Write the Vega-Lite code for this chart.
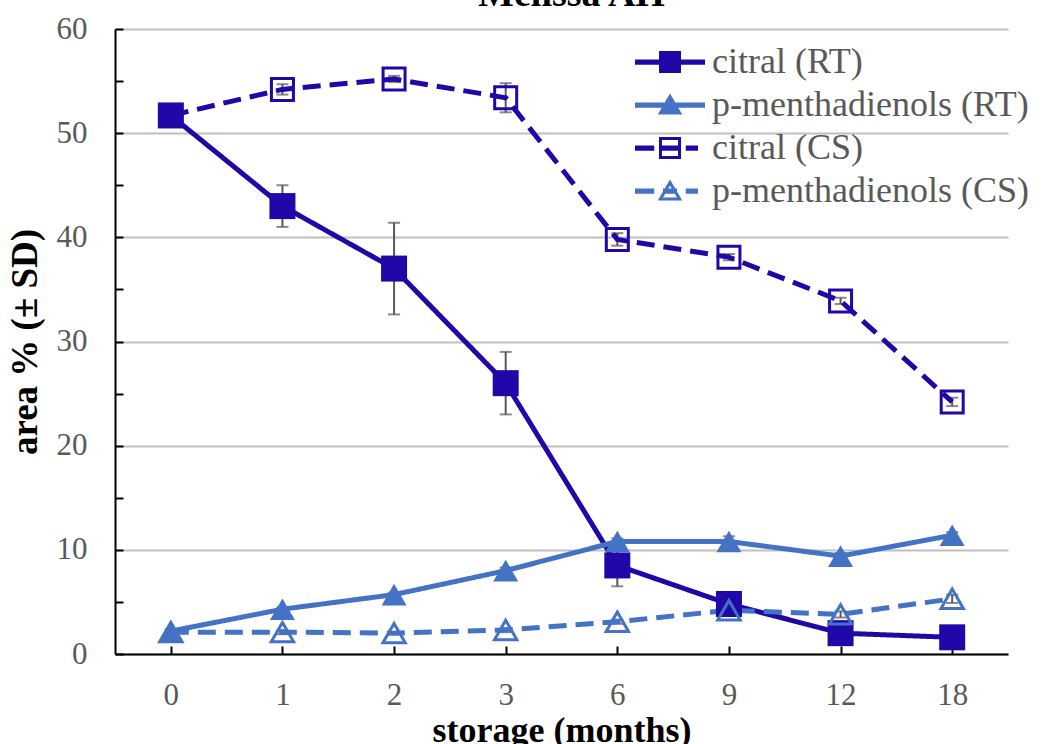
{
  "$schema": "https://vega.github.io/schema/vega-lite/v6.json",
  "autosize": {"type": "none"},
  "width": 893,
  "height": 625,
  "padding": {"left": 115, "top": 29, "right": 38, "bottom": 90},
  "background": "white",
  "title": {"text": "Melissa AH", "font": "Liberation Serif", "fontSize": 38, "fontWeight": "bold", "color": "black", "anchor": "middle", "baseline": "alphabetic", "offset": 0, "dy": 31, "dx": 10},
  "config": {"view": {"stroke": null}},
  "data": {"values": [
    {"m": 0, "s": "citral (RT)", "v": 51.7, "sd": 0.3},
    {"m": 1, "s": "citral (RT)", "v": 43.0, "sd": 2.0},
    {"m": 2, "s": "citral (RT)", "v": 37.0, "sd": 4.4},
    {"m": 3, "s": "citral (RT)", "v": 26.0, "sd": 3.0},
    {"m": 6, "s": "citral (RT)", "v": 8.5, "sd": 2.0},
    {"m": 9, "s": "citral (RT)", "v": 4.8, "sd": 0.5},
    {"m": 12, "s": "citral (RT)", "v": 2.0, "sd": 0.3},
    {"m": 18, "s": "citral (RT)", "v": 1.6, "sd": 0.2},
    {"m": 0, "s": "p-menthadienols (RT)", "v": 2.2, "sd": 0.2},
    {"m": 1, "s": "p-menthadienols (RT)", "v": 4.3, "sd": 0.2},
    {"m": 2, "s": "p-menthadienols (RT)", "v": 5.7, "sd": 0.2},
    {"m": 3, "s": "p-menthadienols (RT)", "v": 8.0, "sd": 0.3},
    {"m": 6, "s": "p-menthadienols (RT)", "v": 10.8, "sd": 0.3},
    {"m": 9, "s": "p-menthadienols (RT)", "v": 10.8, "sd": 0.5},
    {"m": 12, "s": "p-menthadienols (RT)", "v": 9.4, "sd": 0.3},
    {"m": 18, "s": "p-menthadienols (RT)", "v": 11.4, "sd": 0.3},
    {"m": 0, "s": "citral (CS)", "v": 51.7, "sd": 0.3},
    {"m": 1, "s": "citral (CS)", "v": 54.2, "sd": 0.5},
    {"m": 2, "s": "citral (CS)", "v": 55.2, "sd": 0.3},
    {"m": 3, "s": "citral (CS)", "v": 53.4, "sd": 1.4},
    {"m": 6, "s": "citral (CS)", "v": 39.8, "sd": 0.6},
    {"m": 9, "s": "citral (CS)", "v": 38.1, "sd": 0.3},
    {"m": 12, "s": "citral (CS)", "v": 33.9, "sd": 0.3},
    {"m": 18, "s": "citral (CS)", "v": 24.2, "sd": 0.4},
    {"m": 0, "s": "p-menthadienols (CS)", "v": 2.1, "sd": 0.1},
    {"m": 1, "s": "p-menthadienols (CS)", "v": 2.1, "sd": 0.2},
    {"m": 2, "s": "p-menthadienols (CS)", "v": 2.0, "sd": 0.1},
    {"m": 3, "s": "p-menthadienols (CS)", "v": 2.3, "sd": 0.2},
    {"m": 6, "s": "p-menthadienols (CS)", "v": 3.1, "sd": 0.2},
    {"m": 9, "s": "p-menthadienols (CS)", "v": 4.2, "sd": 0.3},
    {"m": 12, "s": "p-menthadienols (CS)", "v": 3.8, "sd": 0.3},
    {"m": 18, "s": "p-menthadienols (CS)", "v": 5.3, "sd": 0.4}
  ]},
  "encoding": {
    "x": {"field": "m", "type": "ordinal", "scale": {"type": "point", "padding": 0.5},
      "axis": {"title": "storage (months)", "labelAngle": 0, "grid": false,
        "domainColor": "black", "domainWidth": 2, "tickColor": "black", "tickWidth": 2, "tickSize": -8,
        "labelFont": "Liberation Serif", "labelFontSize": 31, "labelColor": "#595959", "labelPadding": 34, "labelBaseline": "top",
        "titleFont": "Liberation Serif", "titleFontSize": 36, "titleFontWeight": "bold", "titleColor": "black", "titlePadding": 3}},
    "y": {"field": "v", "type": "quantitative", "scale": {"domain": [0, 60], "nice": false},
      "axis": {"title": "area % (± SD)", "values": [0, 5, 10, 15, 20, 25, 30, 35, 40, 45, 50, 55, 60],
        "labelExpr": "datum.value % 10 === 0 ? datum.label : ''",
        "grid": true, "gridWidth": 2,
        "gridColor": {"condition": {"test": "datum.value % 10 === 0", "value": "#BFBFBF"}, "value": "transparent"},
        "domainColor": "black", "domainWidth": 2, "tickColor": "black", "tickWidth": 2, "tickSize": -8,
        "labelFont": "Liberation Serif", "labelFontSize": 31, "labelColor": "#595959", "labelPadding": 36,
        "titleFont": "Liberation Serif", "titleFontSize": 37, "titleFontWeight": "bold", "titleColor": "black", "titlePadding": 12}}
  },
  "layer": [
    {
      "mark": {"type": "errorbar", "color": "#595959", "ticks": {"size": 12, "thickness": 2, "color": "#595959"}, "rule": {"strokeWidth": 2}},
      "encoding": {"yError": {"field": "sd"}, "detail": {"field": "s"}}
    },
    {
      "mark": {"type": "line", "strokeWidth": 5},
      "encoding": {
        "color": {"field": "s", "type": "nominal",
          "scale": {"domain": ["citral (RT)", "p-menthadienols (RT)", "citral (CS)", "p-menthadienols (CS)"], "range": ["#2008A8", "#4472C4", "#2008A8", "#4472C4"]},
          "legend": {"title": null, "orient": "none", "legendX": 520, "legendY": 15, "padding": 0,
            "labelFont": "Liberation Serif", "labelFontSize": 36, "labelColor": "#595959", "labelOffset": 7, "rowPadding": 7, "clipHeight": 36, "labelLimit": 0,
            "symbolSize": 4900, "symbolStrokeWidth": 0,
            "encode": {"symbols": {"update": {
              "shape": {"signal": "datum.value === 'citral (RT)' ? 'M-1,-0.075H1V0.075H-1Z M-0.314,-0.314H0.314V0.314H-0.314Z' : datum.value === 'p-menthadienols (RT)' ? 'M-1,-0.075H1V0.075H-1Z M0,-0.33L0.35,0.27L-0.35,0.27Z' : datum.value === 'citral (CS)' ? 'M-1,-0.075H-0.45V0.075H-1Z M0.45,-0.075H0.8V0.075H0.45Z M-0.3,-0.075H0.3V0.075H-0.3Z M-0.314,-0.314H0.314V0.314H-0.314Z M-0.23,-0.23V0.23H0.23V-0.23Z' : 'M-1,-0.075H-0.45V0.075H-1Z M0.45,-0.075H0.8V0.075H0.45Z M-0.2,-0.075H0.2V0.075H-0.2Z M0,-0.33L0.35,0.27L-0.35,0.27Z M0,-0.16L-0.2,0.185L0.2,0.185Z'"},
              "size": {"value": 4900},
              "fill": {"signal": "(datum.value === 'citral (RT)' || datum.value === 'citral (CS)') ? '#2008A8' : '#4472C4'"},
              "stroke": {"value": "transparent"},
              "strokeWidth": {"value": 0},
              "opacity": {"value": 1}
            }}}
          }
        },
        "strokeDash": {"field": "s", "type": "nominal",
          "scale": {"domain": ["citral (RT)", "p-menthadienols (RT)", "citral (CS)", "p-menthadienols (CS)"], "range": [[1, 0], [1, 0], [18, 9], [18, 9]]},
          "legend": null}
      }
    },
    {
      "transform": [{"filter": "datum.s === 'citral (RT)'"}],
      "mark": {"type": "point", "shape": "square", "size": 676, "filled": true, "color": "#2008A8", "opacity": 1}
    },
    {
      "transform": [{"filter": "datum.s === 'p-menthadienols (RT)'"}],
      "mark": {"type": "point", "shape": "triangle-up", "size": 625, "filled": true, "color": "#4472C4", "opacity": 1}
    },
    {
      "transform": [{"filter": "datum.s === 'citral (CS)'"}],
      "mark": {"type": "point", "shape": "square", "size": 484, "filled": false, "stroke": "#2008A8", "strokeWidth": 3, "opacity": 1}
    },
    {
      "transform": [{"filter": "datum.s === 'p-menthadienols (CS)'"}],
      "mark": {"type": "point", "shape": "triangle-up", "size": 500, "filled": false, "stroke": "#4472C4", "strokeWidth": 3, "opacity": 1}
    }
  ]
}
